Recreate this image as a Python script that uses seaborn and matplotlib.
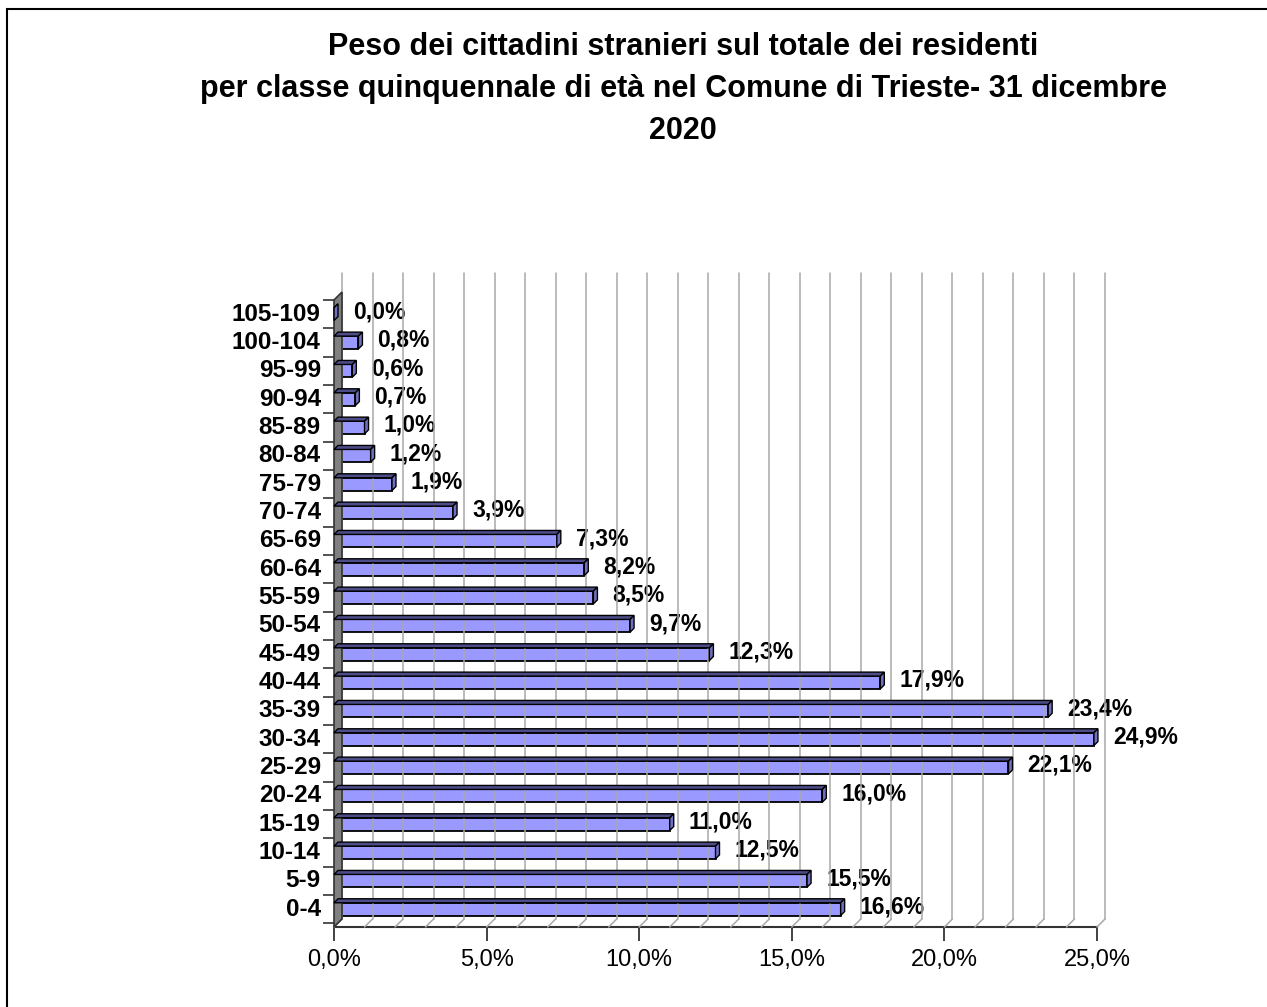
import numpy as np
import pandas as pd
import seaborn as sns
import matplotlib.pyplot as plt
from matplotlib.patches import Polygon, Rectangle
from matplotlib.lines import Line2D
from matplotlib.ticker import FuncFormatter

# age classes, top of chart first
classi = ['105-109', '100-104', '95-99', '90-94', '85-89', '80-84', '75-79',
          '70-74', '65-69', '60-64', '55-59', '50-54', '45-49', '40-44',
          '35-39', '30-34', '25-29', '20-24', '15-19', '10-14', '5-9', '0-4']
peso = [0.0, 0.8, 0.6, 0.7, 1.0, 1.2, 1.9,
        3.9, 7.3, 8.2, 8.5, 9.7, 12.3, 17.9,
        23.4, 24.9, 22.1, 16.0, 11.0, 12.5, 15.5, 16.6]
x_ticks = [0, 5, 10, 15, 20, 25]

titolo = ("Peso dei cittadini stranieri sul totale dei residenti\n"
          "per classe quinquennale di età nel Comune di Trieste- 31 dicembre\n"
          "2020")

sns.set_style('white')
plt.rcParams['font.family'] = ['Liberation Sans', 'DejaVu Sans']
plt.rcParams['text.color'] = 'black'
plt.rcParams['xtick.color'] = 'black'
plt.rcParams['ytick.color'] = 'black'
plt.rcParams['axes.labelcolor'] = 'black'

df = pd.DataFrame({'classe': classi, 'peso': peso})

W, H = 1267, 1007
fig = plt.figure(figsize=(W / 100, H / 100), dpi=100)
ax = fig.add_axes([334 / W, 1 - 927 / H, 763 / W, 627 / H])

sns.barplot(data=df, y='classe', x='peso', orient='h', color='#9999FF',
            saturation=1, width=0.45, edgecolor='black', linewidth=1.3,
            ax=ax, zorder=3)

ax.set_xlim(0, 25)
ax.set_ylim(len(classi) - 1 + 0.63, -0.17)
for s in ['top', 'right', 'left']:
    ax.spines[s].set_visible(False)
ax.spines['bottom'].set_color('#333333')
ax.spines['bottom'].set_linewidth(1.5)

ax.set_xticks(x_ticks)
ax.xaxis.set_major_formatter(FuncFormatter(lambda v, p: f"{v:.1f}%".replace('.', ',')))
ax.tick_params(axis='x', bottom=True, length=10, width=1.3, color='#333333',
               labelsize=17, pad=6)
ax.set_yticks(range(len(classi)))
ax.set_yticklabels(classi, fontsize=17.5, fontweight='bold', va='center')
ax.set_yticks(np.arange(len(classi) + 1) - 0.5, minor=True)
ax.tick_params(axis='y', which='major', left=False, pad=6)
ax.tick_params(axis='y', which='minor', left=True, length=8, width=1.2,
               color='#333333', pad=0)
ax.set_xlabel('')
ax.set_ylabel('')

fig.canvas.draw()
tr = ax.transData
d = 8  # depth in pixels

# back wall gridlines and floor
for v in range(0, 26):
    p0 = tr.transform((v, ax.get_ylim()[0]))
    top_y = 1007 - 273
    fig.add_artist(Line2D([p0[0] + d, p0[0] + d], [p0[1] + d, top_y],
                          transform=None, color='#A8A8A8', lw=1.1, zorder=1))
    fig.add_artist(Line2D([p0[0], p0[0] + d], [p0[1], p0[1] + d],
                          transform=None, color='#A8A8A8', lw=1.1, zorder=1))

# side wall
b = tr.transform((0, ax.get_ylim()[0]))
t = tr.transform((0, ax.get_ylim()[1]))
wall = Polygon([(b[0], b[1]), (b[0] + d, b[1] + d), (t[0] + d, t[1] + d),
                (t[0], t[1])], closed=True, transform=None,
               facecolor='#808080', edgecolor='#333333', lw=1.2, zorder=2)
fig.add_artist(wall)

# 3d faces of bars
dd = 4
for bar in ax.patches[:len(classi)]:
    x0, y0 = bar.get_x(), bar.get_y()
    w, h = bar.get_width(), bar.get_height()
    c = tr.transform([(x0, y0), (x0 + w, y0 + h)])
    left, right = c[:, 0].min(), c[:, 0].max()
    bot, top = c[:, 1].min(), c[:, 1].max()
    topface = Polygon([(left, top), (right, top), (right + dd, top + dd),
                       (left + dd, top + dd)], closed=True, transform=None,
                      facecolor='#4C4C88', edgecolor='black', lw=1.0, zorder=4)
    side = Polygon([(right, bot), (right + dd, bot + dd), (right + dd, top + dd),
                    (right, top)], closed=True, transform=None,
                   facecolor='#7070C0', edgecolor='black', lw=1.0, zorder=4)
    fig.add_artist(topface)
    fig.add_artist(side)

# data labels
for i, v in enumerate(peso):
    ax.annotate(f"{v:.1f}%".replace('.', ','), (v, i), xytext=(19, 2),
                textcoords='offset pixels', va='center', ha='left',
                fontsize=16.5, fontweight='bold', zorder=5)

fig.text(683 / W, 1 - 32 / H, titolo, ha='center', va='top', fontsize=22,
         fontweight='bold', linespacing=1.52)

fig.add_artist(Rectangle((7 / W, -0.1), 1.2, 1 - 9 / H + 0.1, fill=False,
                         transform=fig.transFigure, lw=1.5, edgecolor='black'))

fig.savefig('out.png', dpi=100)
